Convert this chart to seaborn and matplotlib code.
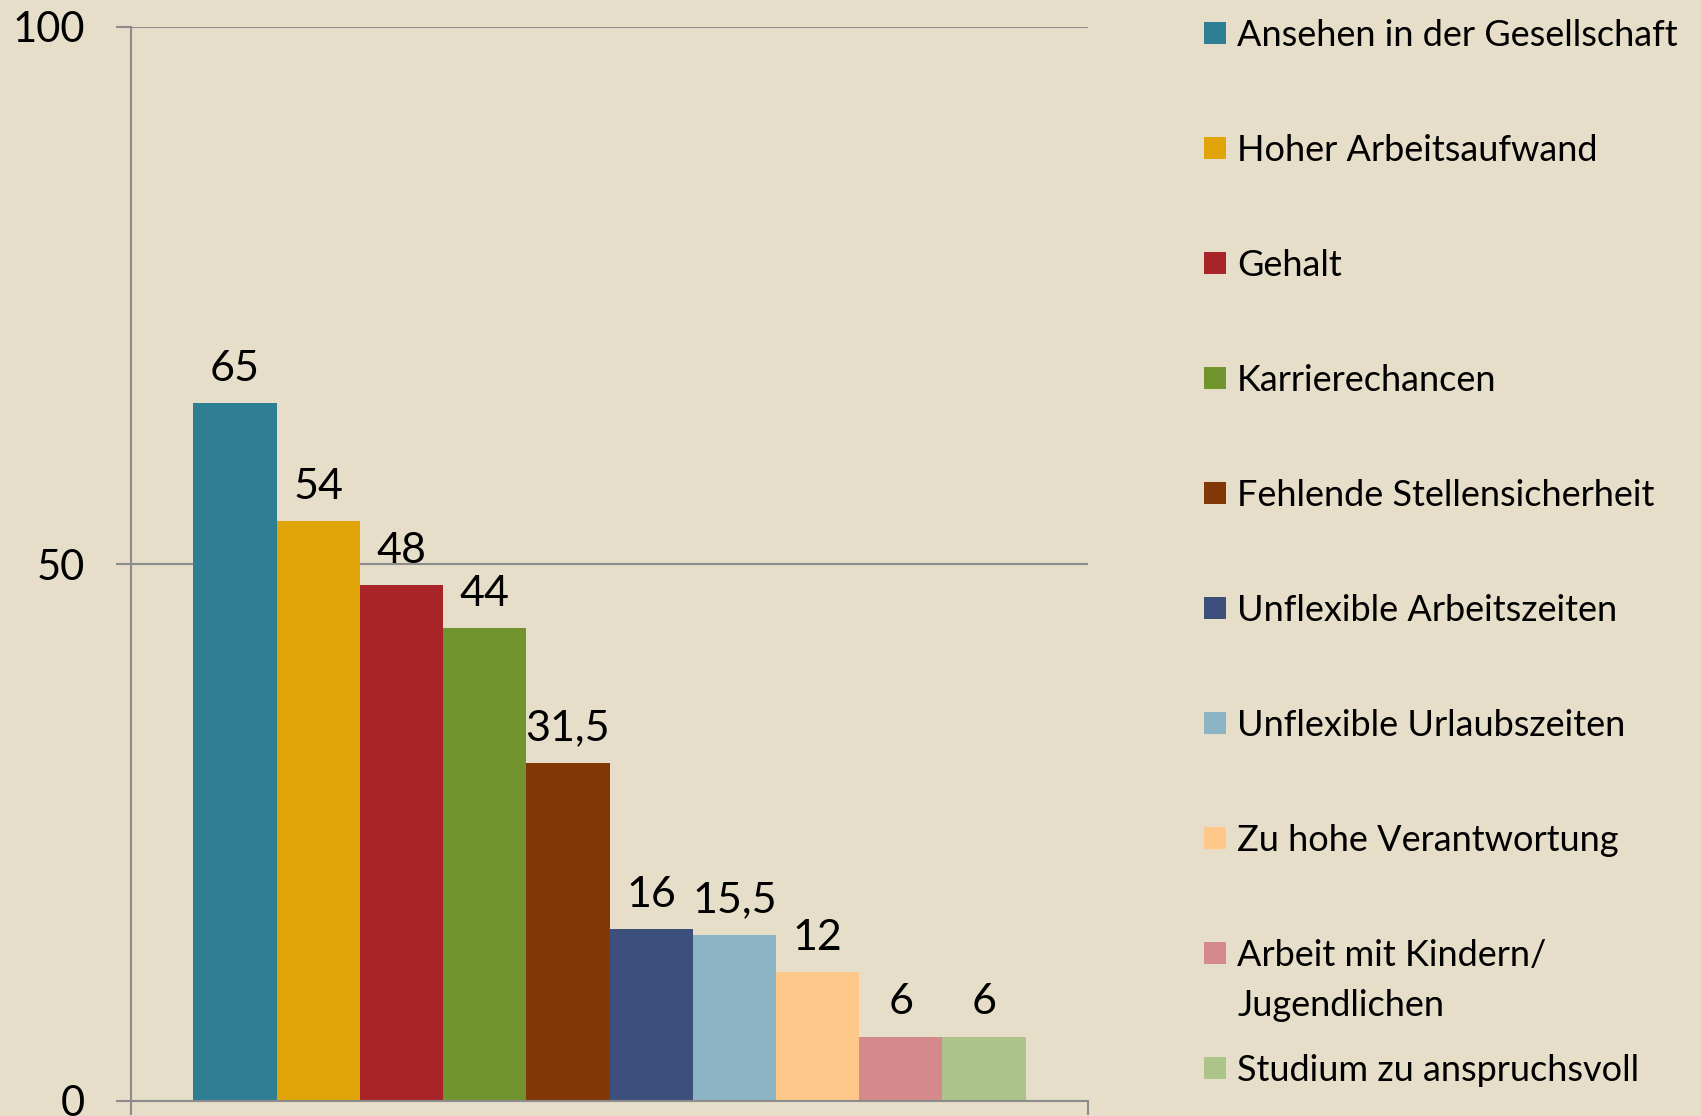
import numpy as np
import pandas as pd
import matplotlib
matplotlib.use("Agg")
import matplotlib.pyplot as plt
from matplotlib.patches import Rectangle
import seaborn as sns

# data
categories = ["Ansehen in der Gesellschaft", "Hoher Arbeitsaufwand", "Gehalt",
              "Karrierechancen", "Fehlende Stellensicherheit", "Unflexible Arbeitszeiten",
              "Unflexible Urlaubszeiten", "Zu hohe Verantwortung",
              "Arbeit mit Kindern/\nJugendlichen", "Studium zu anspruchsvoll"]
values = [65, 54, 48, 44, 31.5, 16, 15.5, 12, 6, 6]
value_labels = ["65", "54", "48", "44", "31,5", "16", "15,5", "12", "6", "6"]
colors = ["#2E7F93", "#E0A408", "#A92428", "#72942E", "#823806",
          "#3D4F7C", "#8DB4C4", "#FEC88A", "#D48A8A", "#ACC38A"]
yticks = [0, 50, 100]

bg = "#E6DEC9"
grey = "#8C8C8C"

sns.set_style("white")
plt.rcParams["font.family"] = ["Lato", "DejaVu Sans"]

df = pd.DataFrame({"cat": categories, "val": values})

W, H = 1701, 1116
fig = plt.figure(figsize=(W / 100, H / 100), dpi=100, facecolor=bg)
ax = fig.add_axes([131 / W, 1 - 1101 / H, (1088 - 131) / W, (1101 - 27) / H])
ax.set_facecolor(bg)

sns.barplot(data=df, x="cat", y="val", hue="cat", order=categories, hue_order=categories,
            palette=colors, width=1, saturation=1, errorbar=None, legend=False, ax=ax,
            linewidth=0)

for cont, lab in zip(ax.containers, value_labels):
    ax.bar_label(cont, labels=[lab], padding=11, fontsize=31, color="black")

ax.set_ylim(0, 100)
ax.set_xlim(-1.25, 10.25)
ax.set_yticks(yticks)
ax.set_yticklabels([str(t) for t in yticks], fontsize=30, color="black")
ax.set_xticks([-1.25, 10.25])
ax.set_xticklabels(["", ""])
ax.tick_params(axis="y", direction="out", length=11, width=1.5, color=grey, pad=22, left=True)
ax.tick_params(axis="x", direction="out", length=10, width=1.5, color=grey, bottom=True)
ax.yaxis.grid(True, color=grey, linewidth=1.5)
ax.xaxis.grid(False)
ax.set_axisbelow(True)
for s in ["top", "right"]:
    ax.spines[s].set_visible(False)
for s in ["left", "bottom"]:
    ax.spines[s].set_color(grey)
    ax.spines[s].set_linewidth(1.5)
ax.set_xlabel("")
ax.set_ylabel("")

# legend drawn by hand so the wrapped entry keeps the even spacing
for i, (lab, col) in enumerate(zip(categories, colors)):
    yc = 33 + 115 * i
    fig.patches.append(Rectangle((1204 / W, 1 - (yc + 11) / H), 22 / W, 22 / H,
                                 transform=fig.transFigure, facecolor=col, edgecolor="none"))
    for k, line in enumerate(lab.split("\n")):
        fig.text(1237 / W, 1 - (yc + 13 + 50 * k) / H, line, fontsize=26, va="baseline",
                 ha="left", color="black")

fig.savefig("out.png", dpi=100, facecolor=bg)
